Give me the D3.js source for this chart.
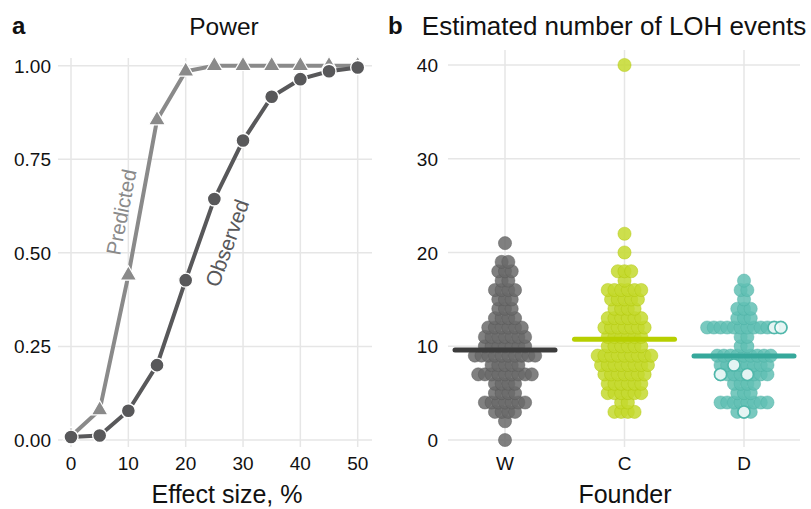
<!DOCTYPE html>
<html>
<head>
<meta charset="utf-8">
<script src="https://cdn.jsdelivr.net/npm/d3@7"></script>
<style>
  body { margin: 0; background: #fff; }
  text { font-family: "Liberation Sans", Arial, Helvetica, sans-serif; fill: #111; }
</style>
</head>
<body>
<svg id="fig" width="811" height="509"></svg>
<script>
  // panel a: power curves
  var effectSize = [0, 5, 10, 15, 20, 25, 30, 35, 40, 45, 50];
  var predicted = [0.01, 0.08, 0.44, 0.855, 0.985, 1, 1, 1, 1, 1, 1];
  var observed = [0.008, 0.012, 0.078, 0.20, 0.427, 0.644, 0.80, 0.917, 0.964, 0.985, 0.995];
  var effectTicks = [0, 10, 20, 30, 40, 50];
  var powerTicks = [0, 0.25, 0.5, 0.75, 1];

  // panel b: LOH events per founder, [value, number of strains]
  var founders = ['W', 'C', 'D'];
  var lohW = [[0,1],[2,1],[3,4],[4,7],[5,4],[6,4],[7,9],[8,5],[9,10],[10,7],[11,7],
              [12,6],[13,4],[14,3],[15,3],[16,4],[17,2],[18,3],[19,2],[21,1]];
  var lohC = [[3,4],[4,2],[5,6],[6,6],[7,7],[8,8],[9,9],[10,6],[11,6],[12,7],[13,6],
              [14,4],[15,5],[16,6],[17,1],[18,3],[20,1],[22,1],[40,1]];
  var lohD = [[3,3],[4,8],[5,3],[6,4],[7,8],[8,8],[9,9],[10,2],[11,2],[12,12],[13,3],
              [14,3],[15,1],[16,2],[17,1]];
  var lohMeans = [9.6, 10.75, 8.95];
  var lohTicks = [0, 10, 20, 30, 40];
  // open circles in D: [value, position in its row]
  var hollowD = [[12,10],[12,11],[8,2],[7,0],[7,4],[3,1]];

  var dotFill = {W: '#6a6a6a', C: '#c4d92e', D: '#62c0b4'}
    , dotEdge = {W: '#555555', C: '#adc400', D: '#45aea1'}
    , meanCol = {W: '#3c3c3c', C: '#b7cf00', D: '#36a89b'}
    , grid = '#e6e6e6'
  ;

  var svg = d3.select('#fig');

  // ---------- panel a ----------
  var xA = d3.scaleLinear().domain([0, 50]).range([71, 357.7])
    , yA = d3.scaleLinear().domain([0, 1]).range([440, 65.7])
  ;
  var a = svg.append('g');

  a.selectAll('line.h').data(powerTicks).enter().append('line')
      .attr('x1', 58).attr('x2', 372)
      .attr('y1', yA).attr('y2', yA)
      .attr('stroke', grid).attr('stroke-width', 1.5);
  a.selectAll('line.v').data(effectTicks).enter().append('line')
      .attr('x1', xA).attr('x2', xA)
      .attr('y1', 58).attr('y2', 447)
      .attr('stroke', grid).attr('stroke-width', 1.5);

  a.selectAll('text.yt').data(powerTicks).enter().append('text')
      .attr('x', 51).attr('y', function (d) { return yA(d) + 7; })
      .attr('text-anchor', 'end').attr('font-size', 19)
      .text(function (d) { return d3.format('.2f')(d); });
  a.selectAll('text.xt').data(effectTicks).enter().append('text')
      .attr('x', xA).attr('y', 470)
      .attr('text-anchor', 'middle').attr('font-size', 19)
      .text(function (d) { return d; });

  var line = d3.line()
      .x(function (d) { return xA(d[0]); })
      .y(function (d) { return yA(d[1]); });

  var predPts = effectSize.map(function (x, i) { return [x, predicted[i]]; })
    , obsPts = effectSize.map(function (x, i) { return [x, observed[i]]; })
  ;

  a.append('path').datum(predPts)
      .attr('d', line).attr('fill', 'none')
      .attr('stroke', '#8a8a8a').attr('stroke-width', 4);
  a.selectAll('path.tri').data(predPts).enter().append('path')
      .attr('d', d3.symbol().type(d3.symbolTriangle).size(120))
      .attr('transform', function (d) { return 'translate(' + xA(d[0]) + ',' + yA(d[1]) + ')'; })
      .attr('fill', '#8a8a8a').attr('stroke', '#fff').attr('stroke-width', 1.2);

  a.append('path').datum(obsPts)
      .attr('d', line).attr('fill', 'none')
      .attr('stroke', '#58585a').attr('stroke-width', 4);
  a.selectAll('circle.obs').data(obsPts).enter().append('circle')
      .attr('cx', function (d) { return xA(d[0]); })
      .attr('cy', function (d) { return yA(d[1]); })
      .attr('r', 7)
      .attr('fill', '#58585a').attr('stroke', '#fff').attr('stroke-width', 1.4);

  a.append('text')
      .attr('transform', 'translate(121,212) rotate(-79)')
      .attr('text-anchor', 'middle').attr('dominant-baseline', 'central')
      .attr('font-size', 20.5).style('fill', '#8a8a8a')
      .text('Predicted');
  a.append('text')
      .attr('transform', 'translate(227,243) rotate(-70)')
      .attr('text-anchor', 'middle').attr('dominant-baseline', 'central')
      .attr('font-size', 21).style('fill', '#58585a')
      .text('Observed');

  a.append('text').attr('x', 12).attr('y', 34)
      .attr('font-size', 24).attr('font-weight', 'bold').text('a');
  a.append('text').attr('x', 224).attr('y', 35)
      .attr('text-anchor', 'middle').attr('font-size', 24.5).text('Power');
  a.append('text').attr('x', 227).attr('y', 503)
      .attr('text-anchor', 'middle').attr('font-size', 25).text('Effect size, %');

  // ---------- panel b ----------
  var xB = d3.scalePoint().domain(founders).range([505, 744])
    , yB = d3.scaleLinear().domain([0, 40]).range([440, 65])
    , dotGap = 6.7
    , dotR = 6.6
  ;
  var b = svg.append('g');

  b.selectAll('line.h').data(lohTicks).enter().append('line')
      .attr('x1', 448).attr('x2', 800)
      .attr('y1', yB).attr('y2', yB)
      .attr('stroke', grid).attr('stroke-width', 1.5);
  b.selectAll('line.v').data(founders).enter().append('line')
      .attr('x1', xB).attr('x2', xB)
      .attr('y1', 50).attr('y2', 447)
      .attr('stroke', grid).attr('stroke-width', 1.5);

  b.selectAll('text.yt').data(lohTicks).enter().append('text')
      .attr('x', 438).attr('y', function (d) { return yB(d) + 7; })
      .attr('text-anchor', 'end').attr('font-size', 19)
      .text(function (d) { return d; });
  b.selectAll('text.xt').data(founders).enter().append('text')
      .attr('x', xB).attr('y', 470)
      .attr('text-anchor', 'middle').attr('font-size', 19)
      .text(function (d) { return d; });

  function swarm(counts, key) {
    var pts = [];
    counts.forEach(function (c) {
      for (var i = 0; i < c[1]; i++) pts.push({founder: key, value: c[0], slot: i, n: c[1]});
    });
    return pts;
  }
  function dotX(d) { return xB(d.founder) + (d.slot - (d.n - 1) / 2) * dotGap; }

  var dots = swarm(lohW, 'W').concat(swarm(lohC, 'C'), swarm(lohD, 'D'));

  b.selectAll('circle.dot').data(dots).enter().append('circle')
      .attr('cx', dotX)
      .attr('cy', function (d) { return yB(d.value); })
      .attr('r', dotR)
      .attr('fill', function (d) { return dotFill[d.founder]; })
      .attr('fill-opacity', 0.85)
      .attr('stroke', function (d) { return dotEdge[d.founder]; })
      .attr('stroke-opacity', 0.6)
      .attr('stroke-width', 0.7);

  b.selectAll('line.mean').data(founders).enter().append('line')
      .attr('x1', function (d) { return xB(d) - 50; })
      .attr('x2', function (d) { return xB(d) + 50; })
      .attr('y1', function (d, i) { return yB(lohMeans[i]); })
      .attr('y2', function (d, i) { return yB(lohMeans[i]); })
      .attr('stroke', function (d) { return meanCol[d]; })
      .attr('stroke-width', 5).attr('stroke-linecap', 'round');

  var rowSize = {};
  lohD.forEach(function (c) { rowSize[c[0]] = c[1]; });
  b.selectAll('circle.hollow').data(hollowD).enter().append('circle')
      .attr('cx', function (d) { return dotX({founder: 'D', slot: d[1], n: rowSize[d[0]]}); })
      .attr('cy', function (d) { return yB(d[0]); })
      .attr('r', dotR - 0.6)
      .attr('fill', '#f2faf9').attr('fill-opacity', 0.9)
      .attr('stroke', '#4fb7aa').attr('stroke-width', 1.5);

  b.append('text').attr('x', 388).attr('y', 34)
      .attr('font-size', 24).attr('font-weight', 'bold').text('b');
  b.append('text').attr('x', 614).attr('y', 35)
      .attr('text-anchor', 'middle').attr('font-size', 26).text('Estimated number of LOH events');
  b.append('text').attr('x', 625).attr('y', 503)
      .attr('text-anchor', 'middle').attr('font-size', 25).text('Founder');
</script>
</body>
</html>
